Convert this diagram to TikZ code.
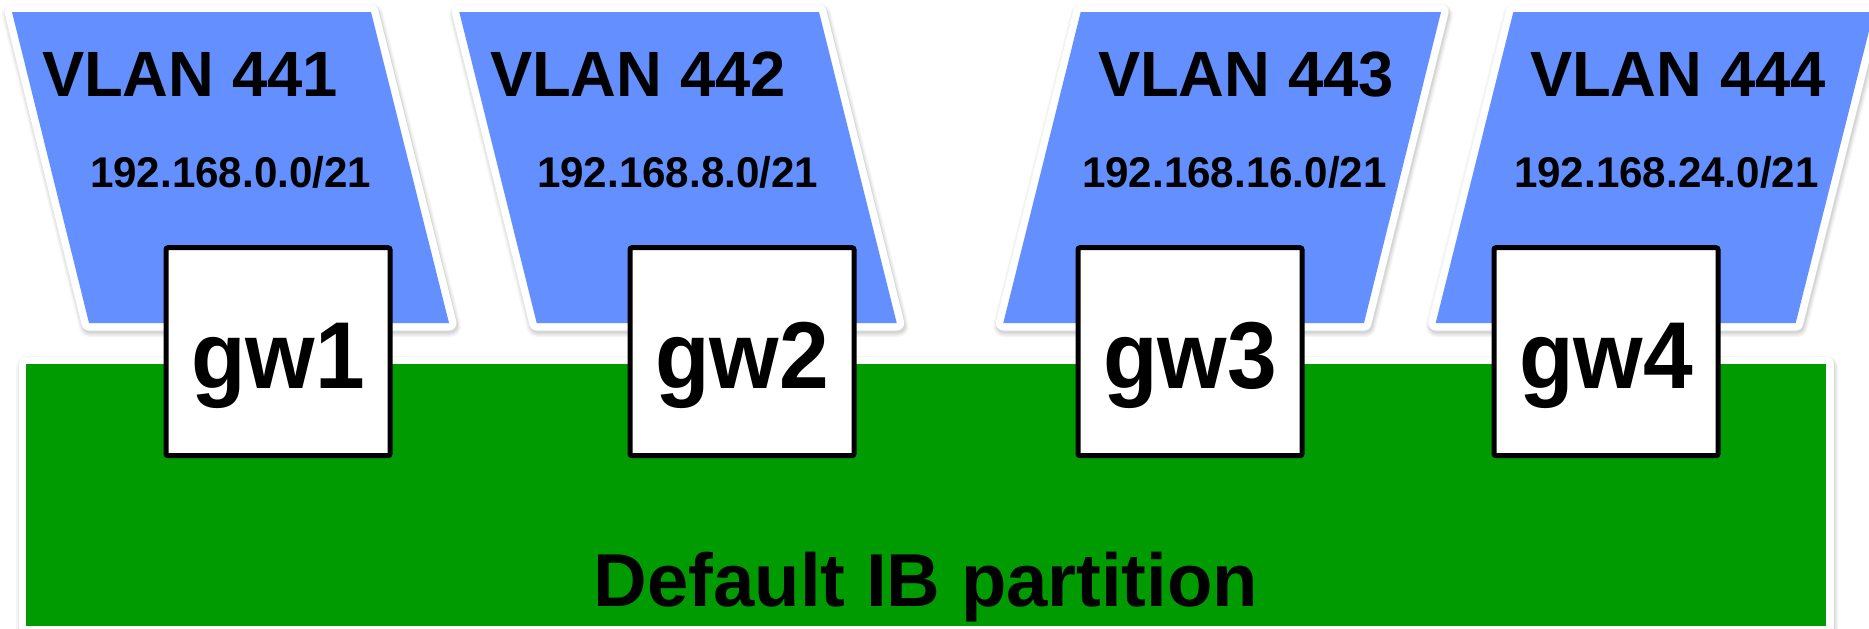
\documentclass[tikz,border=0pt]{standalone}
\usepackage{graphicx}
\usepackage{fontspec}
\setmainfont{Liberation Sans}
\definecolor{vlanblue}{RGB}{99,143,255}
\definecolor{ibgreen}{RGB}{0,155,0}

% A filled panel with a white rim and a soft shadow below it
\newcommand\rimpanel[2]{%
  \path[fill=black!4,draw=black!4,line width=22,line join=round,shift={(1,3)}] #1;
  \path[fill=black!9,draw=black!9,line width=19,line join=round,shift={(1,3)}] #1;
  \path[fill=black!16,draw=black!16,line width=16,line join=round,shift={(1,2.5)}] #1;
  \path[fill=white,draw=white,line width=15,line join=round] #1;
  \path[fill=#2] #1;
}
% Slightly condensed bold text
\newcommand\narrowtext[2]{\scalebox{#1}[1]{#2}}

\begin{document}
\begin{tikzpicture}[x=1pt,y=-1pt,
  every node/.style={inner sep=0pt, outer sep=0pt},
  vlanlabel/.style={anchor=base west, font=\bfseries\fontsize{64}{64}\selectfont},
  netlabel/.style={anchor=base west, font=\bfseries\fontsize{43}{43}\selectfont},
  gwbox/.style={draw=black, fill=white, line width=5, rounded corners=2,
    minimum width=224, minimum height=208},
  gwlabel/.style={anchor=base, font=\bfseries\fontsize{95}{95}\selectfont},
  partlabel/.style={anchor=base, font=\bfseries\fontsize{75}{75}\selectfont}]

\useasboundingbox (0,0) rectangle (1869,629);
\fill[white] (0,0) rectangle (1869,629);

% VLAN panels
\rimpanel{(12,12) -- (371,12) -- (449,323) -- (89,323) -- cycle}{vlanblue}
\rimpanel{(459.3,12) -- (819,12) -- (896.7,323) -- (536.7,323) -- cycle}{vlanblue}
\rimpanel{(1080.7,12) -- (1441,12) -- (1364,323) -- (1003.3,323) -- cycle}{vlanblue}
\rimpanel{(1513.3,12) -- (1873.7,12) -- (1795.7,323) -- (1435.7,323) -- cycle}{vlanblue}

% InfiniBand partition
\rimpanel{(26,364) rectangle (1826,626)}{ibgreen}

% VLAN names and subnets
\node[vlanlabel] (v1) at (42,96.7) {\narrowtext{0.99}{VLAN 441}};
\node[vlanlabel] (v2) at (490,96.7) {\narrowtext{0.99}{VLAN 442}};
\node[vlanlabel] (v3) at (1098,96.7) {\narrowtext{0.99}{VLAN 443}};
\node[vlanlabel] (v4) at (1530,96.7) {\narrowtext{0.99}{VLAN 444}};
\node[netlabel] (n1) at (90,187.7) {\narrowtext{0.98}{192.168.0.0/21}};
\node[netlabel] (n2) at (537,187.7) {\narrowtext{0.98}{192.168.8.0/21}};
\node[netlabel] (n3) at (1082,187.7) {\narrowtext{0.98}{192.168.16.0/21}};
\node[netlabel] (n4) at (1514,187.7) {\narrowtext{0.98}{192.168.24.0/21}};

% Gateways
\node[gwbox] (gw1box) at (278,351.7) {};
\node[gwbox] (gw2box) at (742,351.7) {};
\node[gwbox] (gw3box) at (1190,351.7) {};
\node[gwbox] (gw4box) at (1606,351.7) {};
\node[gwlabel] (gw1) at (gw1box.center |- 0,388) {\narrowtext{0.94}{gw1}};
\node[gwlabel] (gw2) at (gw2box.center |- 0,388) {\narrowtext{0.94}{gw2}};
\node[gwlabel] (gw3) at (gw3box.center |- 0,388) {\narrowtext{0.94}{gw3}};
\node[gwlabel] (gw4) at (gw4box.center |- 0,388) {\narrowtext{0.94}{gw4}};

\node[partlabel] (ib) at (926,606) {\narrowtext{0.99}{Default IB partition}};
\end{tikzpicture}
\end{document}
